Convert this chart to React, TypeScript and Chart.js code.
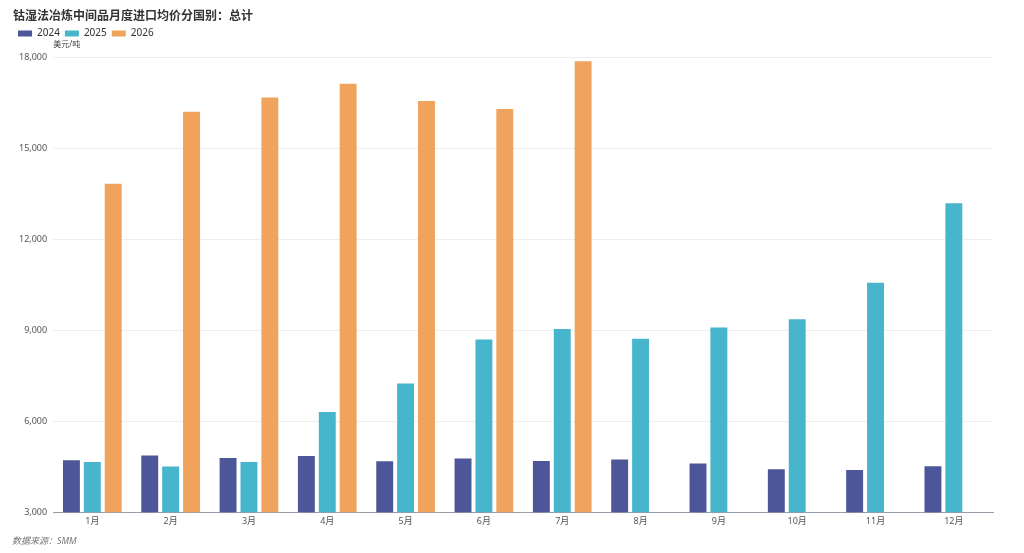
import React, { useRef, useEffect } from 'react';
import Chart from 'chart.js/auto';

const months = ['1月', '2月', '3月', '4月', '5月', '6月', '7月', '8月', '9月', '10月', '11月', '12月'];

const values2024 = [4713, 4867, 4789, 4854, 4680, 4768, 4690, 4736, 4605, 4418, 4395, 4517];
const values2025 = [4657, 4507, 4657, 6308, 7245, 8700, 9040, 8720, 9090, 9360, 10570, 13190];
const values2026 = [13830, 16210, 16680, 17130, 16560, 16300, 17870, null, null, null, null, null];

const titleText = '钴湿法冶炼中间品月度进口均价分国别：总计';
const unitText = '美元/吨';
const sourceText = '数据来源：SMM';

const fontFamily = '"Noto Sans", "Noto Sans CJK SC", sans-serif';

const App: React.FC = () => {
    const canvasRef = useRef<HTMLCanvasElement>(null);
    const chartRef = useRef<Chart | null>(null);

    useEffect(() => {
        if (!canvasRef.current) return;
        const ctx = canvasRef.current.getContext('2d');
        if (!ctx) return;

        chartRef.current = new Chart(ctx, {
            type: 'bar',
            data: {
                labels: months,
                datasets: [
                    { label: '2024', data: values2024, backgroundColor: '#4c5698' },
                    { label: '2025', data: values2025, backgroundColor: '#47b5cb' },
                    { label: '2026', data: values2026, backgroundColor: '#f0a35c' },
                ],
            },
            options: {
                animation: false,
                responsive: true,
                maintainAspectRatio: false,
                layout: {
                    padding: { left: 13, right: 31, top: 0, bottom: 22 },
                },
                datasets: {
                    bar: {
                        categoryPercentage: 0.8,
                        barPercentage: 0.81,
                    },
                },
                scales: {
                    x: {
                        grid: { display: false, drawTicks: false },
                        border: { display: true, color: '#9a9ca8', width: 1 },
                        ticks: {
                            color: '#555',
                            font: { family: fontFamily, size: 9 },
                            padding: 4,
                        },
                    },
                    y: {
                        min: 3000,
                        max: 18000,
                        grid: { color: '#eeeeee', drawTicks: false },
                        border: { display: false },
                        ticks: {
                            stepSize: 3000,
                            color: '#555',
                            font: { family: fontFamily, size: 9 },
                            padding: 6,
                        },
                    },
                },
                plugins: {
                    title: {
                        display: true,
                        text: titleText,
                        align: 'start',
                        color: '#333',
                        font: { family: fontFamily, size: 12, weight: 'bold' },
                        padding: { top: 9, bottom: 0 },
                    },
                    legend: {
                        display: true,
                        align: 'start',
                        labels: {
                            boxWidth: 14,
                            boxHeight: 6,
                            padding: 5,
                            color: '#333',
                            font: { family: fontFamily, size: 10 },
                        },
                    },
                    tooltip: { enabled: false },
                },
            },
            plugins: [
                {
                    id: 'legendSpace',
                    beforeInit: (chart: any) => {
                        const legend = chart.legend;
                        if (!legend) return;
                        const fit = legend.fit;
                        legend.fit = function () {
                            fit.call(this);
                            this.height += 9;
                        };
                    },
                },
                {
                    id: 'extraTexts',
                    afterDraw: (chart) => {
                        const c = chart.ctx;
                        const area = chart.chartArea;
                        c.save();
                        c.fillStyle = '#444';
                        c.font = `8px ${fontFamily}`;
                        c.textAlign = 'left';
                        c.textBaseline = 'middle';
                        c.fillText(unitText, area.left, area.top - 13);
                        c.fillStyle = '#777';
                        c.font = `italic 9px ${fontFamily}`;
                        c.fillText(sourceText, 12, chart.height - 12);
                        c.restore();
                    },
                },
            ],
        });

        return () => {
            chartRef.current?.destroy();
        };
    }, []);

    return (
        <div style={{ position: 'fixed', left: 0, top: 0, width: 1024, height: 553, background: '#fff' }}>
            <canvas ref={canvasRef}></canvas>
        </div>
    );
};

export default App;
